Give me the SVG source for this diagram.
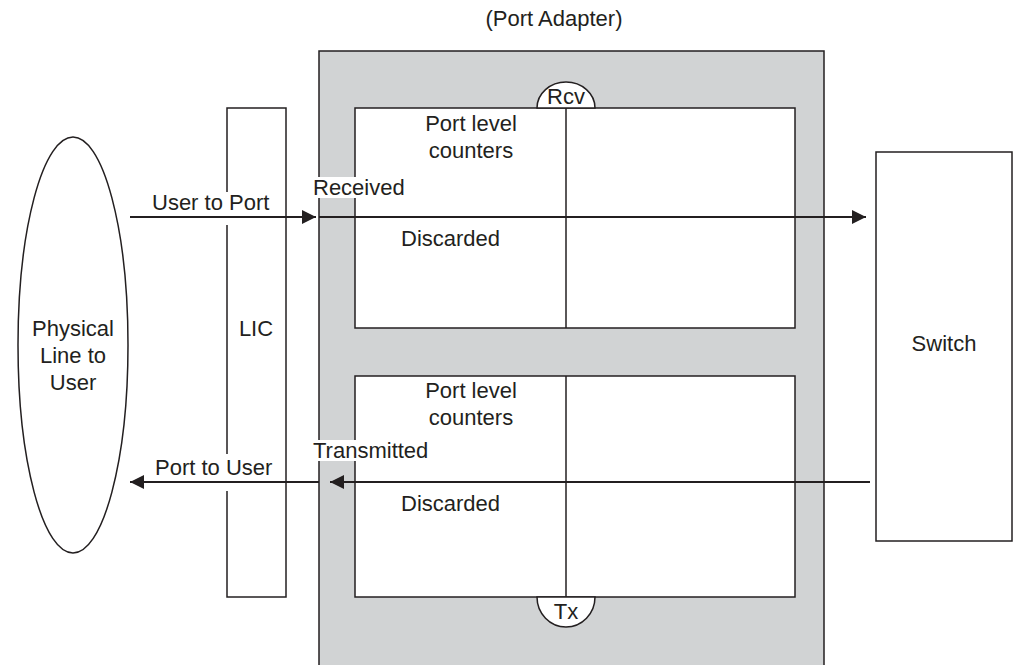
<svg xmlns="http://www.w3.org/2000/svg" width="1013" height="665" viewBox="0 0 1013 665">
<defs>
<style>
text{font-family:"Liberation Sans",Arial,sans-serif;font-size:22px;fill:#231f20}
.s{fill:none;stroke:#231f20;stroke-width:1.5}
.w{fill:#fff;stroke:#231f20;stroke-width:1.5}
.bg{fill:#fff;stroke:none}
.c{text-anchor:middle}
.ln{stroke:#231f20;stroke-width:2;fill:none}
</style>
<marker id="ah" viewBox="0 0 10 10" refX="10" refY="5" markerWidth="14" markerHeight="14" markerUnits="userSpaceOnUse" orient="auto">
<path d="M0,0 L10,5 L0,10 z" fill="#231f20"/>
</marker>
</defs>
<rect width="1013" height="665" fill="#fff"/>
<text class="c" x="554" y="26">(Port Adapter)</text>
<g id="port-adapter">
<rect x="319" y="51" width="505" height="640" fill="#d1d3d4" stroke="#231f20" stroke-width="1.5"/>
</g>
<g id="rcv-counters">
<rect class="w" x="355" y="108" width="440" height="220"/>
<line class="s" x1="566" y1="108" x2="566" y2="328"/>
<path class="w" d="M537,108 A29,26 0 0 1 595,108 Z"/>
<text class="c" x="566" y="104">Rcv</text>
<text class="c" x="471" y="131">Port level</text>
<text class="c" x="471" y="158">counters</text>
</g>
<g id="tx-counters">
<rect class="w" x="355" y="376" width="440" height="221"/>
<line class="s" x1="566" y1="376" x2="566" y2="597"/>
<path class="w" d="M537,597 A29,30 0 0 0 595,597 Z"/>
<text class="c" x="566" y="619">Tx</text>
<text class="c" x="471" y="398">Port level</text>
<text class="c" x="471" y="425">counters</text>
</g>
<g id="physical-line">
<ellipse class="s" cx="73" cy="345" rx="55" ry="208"/>
<text class="c" x="73" y="336">Physical</text>
<text class="c" x="73" y="363">Line to</text>
<text class="c" x="73" y="390">User</text>
</g>
<g id="lic">
<rect class="w" x="227" y="108" width="59" height="489"/>
<text class="c" x="256" y="336">LIC</text>
</g>
<g id="switch">
<rect class="w" x="876" y="152" width="136" height="389"/>
<text class="c" x="944" y="351">Switch</text>
</g>
<g id="labels">
<rect class="bg" x="313" y="177" width="96" height="21"/>
<text x="313" y="195">Received</text>
<text x="401" y="246">Discarded</text>
<rect class="bg" x="313" y="440" width="120" height="21"/>
<text x="313" y="458">Transmitted</text>
<text x="401" y="511">Discarded</text>
<rect class="bg" x="150" y="192" width="134" height="33"/>
<text x="152" y="210">User to Port</text>
<rect class="bg" x="150" y="454" width="134" height="37"/>
<text x="155" y="475">Port to User</text>
</g>
<g id="connectors">
<line class="ln" x1="130" y1="217" x2="316" y2="217" marker-end="url(#ah)"/>
<line class="ln" x1="319" y1="217" x2="866" y2="217" marker-end="url(#ah)"/>
<line class="ln" x1="870" y1="482" x2="330" y2="482" marker-end="url(#ah)"/>
<line class="ln" x1="319" y1="482" x2="130" y2="482" marker-end="url(#ah)"/>
</g>
</svg>
